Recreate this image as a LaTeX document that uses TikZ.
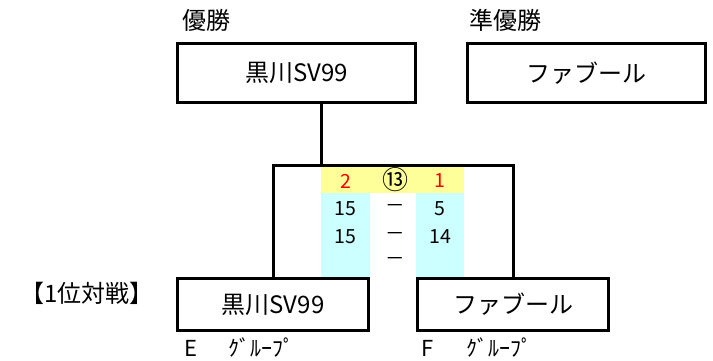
\documentclass[tikz,border=0pt]{standalone}
\usepackage{fontspec}
\setmainfont{Noto Sans CJK JP}
\usepackage{tikz}
\usetikzlibrary{positioning}
\definecolor{scoreyellow}{RGB}{255,255,153}
\definecolor{scorecyan}{RGB}{204,255,255}
\tikzstyle{teambox} = [rectangle, draw, line width=3pt, minimum width=238pt, 
    minimum height=59pt, font=\fontsize{24}{28}\selectfont]
\tikzstyle{smallbox} = [teambox, minimum width=191pt, minimum height=52pt]
\tikzstyle{line} = [draw, line width=3pt]
\tikzstyle{score} = [inner sep=0pt, font=\fontsize{19.5}{22}\selectfont]
\tikzstyle{caption} = [anchor=west, inner sep=0pt, font=\fontsize{24}{26}\selectfont]
\tikzstyle{grouplabel} = [caption, font=\fontsize{22}{24}\selectfont]

\begin{document}
\begin{tikzpicture}[x=1pt, y=-1pt]
    \useasboundingbox (0,0) rectangle (713,361);
    % Score background
    \fill [scoreyellow] (321,167) rectangle (464,193);
    \fill [scorecyan] (321,193) rectangle (370,277);
    \fill [scorecyan] (416,193) rectangle (464,277);
    % Place nodes
    \node [teambox] (champ) at (296.5,73) {黒川SV99};
    \node [teambox, right of=champ, node distance=289.5pt] (runner) {ファブール};
    \node [smallbox] (teamE) at (273,304.5) {黒川SV99};
    \node [smallbox, right of=teamE, node distance=240pt] (teamF) {ファブール};
    \node [caption] (champlabel) at (182,20) {優勝};
    \node [caption] (runnerlabel) at (469,20) {準優勝};
    \node [caption] (round) at (20,293) {【1位対戦】};
    \node [grouplabel] (groupE) at (184,348) {E\hspace{31pt}ｸﾞﾙｰﾌﾟ};
    \node [grouplabel] (groupF) at (421,348) {F\hspace{33pt}ｸﾞﾙｰﾌﾟ};
    % Scores
    \node [score, red] (winsE) at (345.5,181) {2};
    \node [score, font=\fontsize{26}{28}\selectfont] (game) at (395,180) {⑬};
    \node [score, red] (winsF) at (440,181) {1};
    \node [score] (setE1) at (345.5,209) {15};
    \node [score] (dash1) at (395,209) {－};
    \node [score] (setF1) at (440,209) {5};
    \node [score] (setE2) at (345.5,237) {15};
    \node [score] (dash2) at (395,237) {－};
    \node [score] (setF2) at (440,237) {14};
    \node [score] (dash3) at (395,262) {－};
    % Draw edges
    \coordinate (final) at (321,165.5);
    \path [line] (teamE.north) -- (teamE.north |- final) -- (teamF.north |- final) -- (teamF.north);
    \path [line] (champ.south -| final) -- (final);
\end{tikzpicture}
\end{document}
